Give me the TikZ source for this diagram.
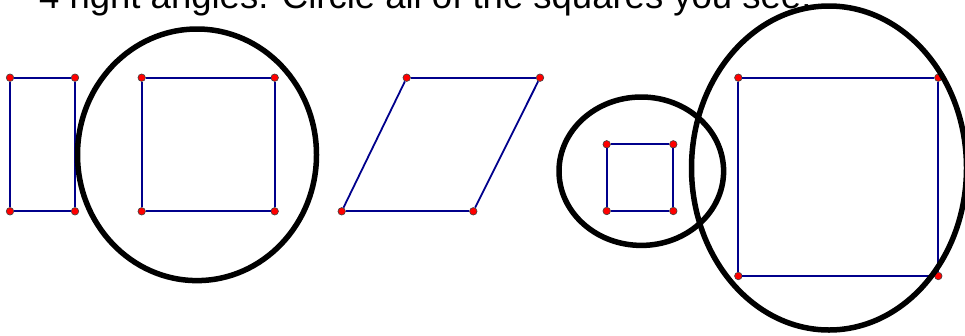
\documentclass[tikz,border=0pt]{standalone}
\usepackage{fontspec}
\setmainfont{Liberation Sans}
\usepackage{xcolor}
\usepackage{tikz}
\usetikzlibrary{calc, positioning}

\definecolor{segblue}{RGB}{0,0,140}
\definecolor{ptred}{RGB}{255,0,0}

\begin{document}
\begin{tikzpicture}[x=1pt, y=-1pt,
        pt/.style={circle, fill=ptred, draw=black!75, line width=0.6pt, inner sep=0pt, minimum size=7.5pt},
        side/.style={draw=segblue, line width=1.8pt},
        ring/.style={draw=black, line width=5.5pt}]
                % 1. Khung hinh
                \useasboundingbox (0,0) rectangle (965,335);
                \clip (0,0) rectangle (965,335);
                \node[anchor=base west, inner sep=0pt, font=\fontsize{36.5}{40}\selectfont] (title) at (39,8)
                    {4 right angles. Circle all of the squares you see.};
                
                % 2. Cac dinh
                \node[pt] (r1) at (10,77.7) {};  \node[pt] (r2) at (75,77.7) {};
                \node[pt] (r3) at (75,211.3) {}; \node[pt] (r4) at (10,211.3) {};
                \node[pt] (s1) at (141.7,77.7) {};  \node[pt] (s2) at (274.7,77.7) {};
                \node[pt] (s3) at (274.7,211.3) {}; \node[pt] (s4) at (141.7,211.3) {};
                \node[pt] (p1) at (406.7,77.7) {};  \node[pt] (p2) at (540,77.7) {};
                \node[pt] (p3) at (473.3,211.3) {}; \node[pt] (p4) at (341.7,211.3) {};
                \node[pt] (q1) at (606.7,144.3) {}; \node[pt] (q2) at (673.3,144.3) {};
                \node[pt] (q3) at (673.3,211) {};   \node[pt] (q4) at (606.7,211) {};
                \node[pt] (b1) at (738.3,77.7) {};  \node[pt] (b2) at (938.3,77.7) {};
                \node[pt] (b3) at (938.3,276) {};   \node[pt] (b4) at (738.3,276) {};
                
                % 3. Cac canh
                \foreach \f in {r,s,p,q,b} {
                    \draw[side] (\f1) -- (\f2);
                    \draw[side] (\f2) -- (\f3);
                    \draw[side] (\f3) -- (\f4);
                    \draw[side] (\f4) -- (\f1);
                }
                
                % 4. Cac vong khoanh
                \draw[ring] (197,154.8) ellipse [x radius=119.5, y radius=125.8];
                \draw[ring] (641.3,171.2) ellipse [x radius=82.3, y radius=74.2];
                \draw[ring] (829,168) ellipse [x radius=137.5, y radius=162];
            \end{tikzpicture}
\end{document}
